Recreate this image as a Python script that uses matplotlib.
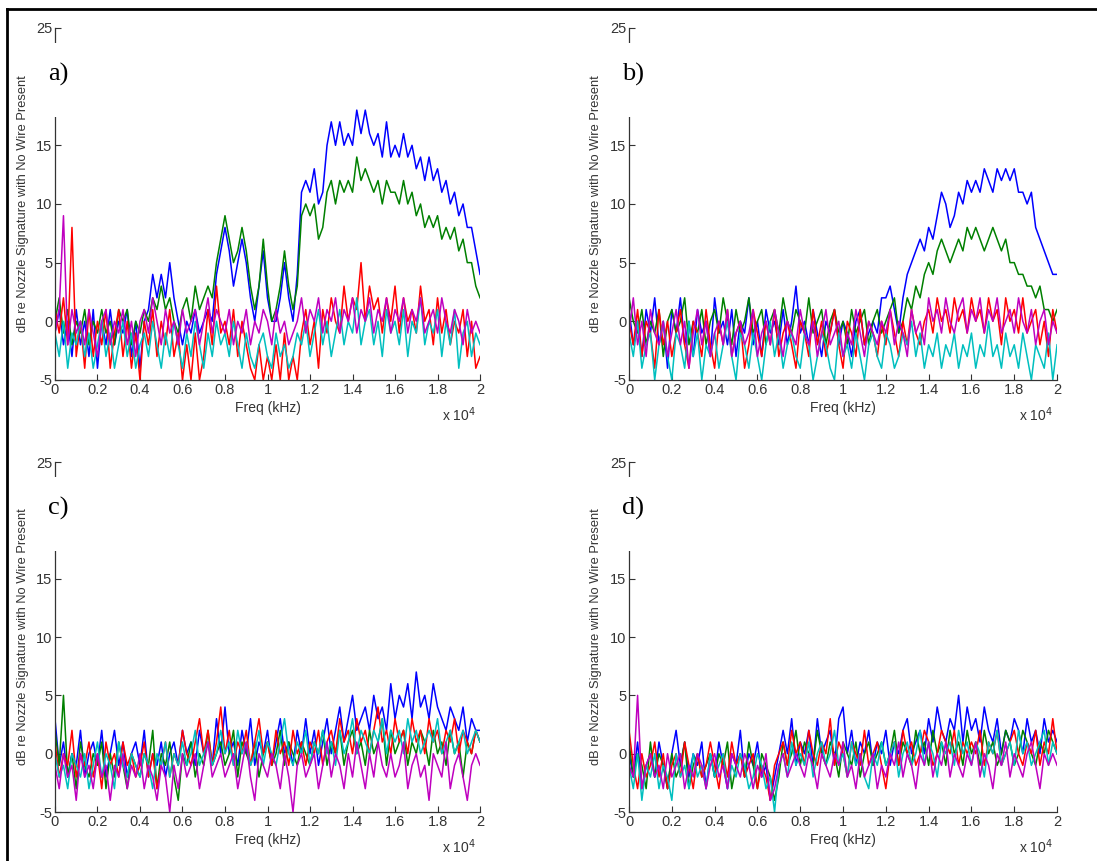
import matplotlib

matplotlib.use("Agg")
import matplotlib.pyplot as plt
import numpy as np
from matplotlib.lines import Line2D
from matplotlib.patches import Rectangle

plt.rcParams["font.family"] = ["Liberation Sans", "DejaVu Sans"]
plt.rcParams["axes.unicode_minus"] = False

# frequency grid (Hz), one value every 200 Hz
FREQ = np.linspace(0, 20000, 101)

# panel a)
A_BLUE = [-1, 1, -2, 0, -3, 1, -2, 0, -3, 1, -4, 0, -2, 1, -2, 0, -1, 1, -3, 0,
          -4, 0, 1, 4, 2, 4, 2, 5, 2, 0, -2, 0, -1, 1, -1, 0, 1, 0, 4, 6,
          8, 6, 3, 5, 7, 5, 2, 0, 3, 6, 2, 0, 0, 2, 5, 2, 0, 4, 11, 12,
          11, 13, 10, 11, 15, 17, 15, 17, 15, 16, 15, 18, 16, 18, 16, 15, 16, 14, 17, 14,
          15, 14, 16, 14, 15, 13, 14, 12, 14, 12, 13, 11, 12, 10, 11, 9, 10, 8, 8, 6, 4]
A_GREEN = [0, 2, -1, 1, -2, 0, -1, 1, -2, 0, -1, 1, -1, 0, -2, 1, 0, 1, -2, 0,
           -1, 1, 0, 2, 1, 3, 1, 2, 0, -1, 1, 2, 0, 3, 1, 2, 3, 2, 5, 7,
           9, 7, 5, 6, 8, 6, 3, 1, 3, 7, 3, 0, 1, 3, 6, 3, 1, 3, 9, 10,
           9, 10, 7, 8, 11, 12, 10, 12, 11, 12, 11, 14, 12, 13, 12, 11, 12, 10, 12, 11,
           11, 10, 12, 10, 11, 9, 10, 8, 9, 8, 9, 7, 8, 7, 8, 6, 7, 5, 5, 3, 2]
A_RED = [1, -1, 2, -2, 8, -3, 0, -4, 1, -3, 0, -2, 1, -4, -1, 1, -3, 0, -4, -1,
         -5, 0, -2, 1, -3, 0, -2, 1, -3, -1, -5, -2, -5, -1, -5, -3, 1, -2, 3, -1,
         0, -2, 1, -3, 0, -2, -4, -5, -2, -5, -3, -5, -2, -5, -1, -5, -3, -5, -1, 1,
         -2, 0, -4, 1, -1, 2, 0, -1, 3, 0, 2, 1, 5, 0, 3, 1, 2, -1, 2, 0,
         3, -1, 2, 0, 1, -1, 3, 0, 1, -2, 2, -1, 1, -2, 0, -1, 1, -3, 0, -4, -3]
A_CYAN = [-1, -3, 0, -4, -1, -2, 0, -3, -1, -4, -2, 0, -3, -1, -4, -2, 0, -3, -1, -4,
          -2, -1, -3, 0, -2, -4, -1, -3, 0, -2, -4, -1, -3, 0, -2, -4, -1, -3, 0, -2,
          -1, -3, 0, -2, -4, -1, -3, -4, -2, -1, -3, -4, -1, -3, -2, -4, -3, -1, -2, 0,
          -3, -1, 1, -2, 0, -3, -1, 1, -2, 0, -1, 2, -2, 0, 1, -2, 0, -3, 1, -1,
          0, -2, 1, -3, 0, -1, 2, -2, 0, -1, 1, -3, 0, -2, 1, -4, -1, 0, -3, -1, -2]
A_MAGENTA = [-1, 1, 9, -2, 1, -1, 0, -2, 1, -1, -3, 0, 1, -2, 0, -1, 1, -2, 0, -3,
             0, 1, -1, 2, 0, -2, 1, -1, 0, -2, 1, -1, 0, 1, -2, 0, 2, -1, 1, 0,
             -1, 1, -2, 0, -1, 1, -2, 0, -1, 1, 0, -2, 1, -1, 0, -2, -1, 0, 2, -1,
             1, 0, 2, -1, 1, 0, 2, -1, 1, 0, 2, -1, 1, 0, 2, -1, 1, 0, 2, -1,
             1, 0, 2, -1, 1, 0, 2, -1, 0, 1, -1, 2, 0, -1, 1, 0, -2, 1, -1, 0, -1]

# panel b)
B_BLUE = [1, -2, 0, -3, 1, -1, 2, -2, 0, -4, 1, -1, 2, -2, 0, -3, 1, -1, 0, -3,
          2, -1, 0, -2, 1, -3, 0, -1, 2, -2, 0, -3, 1, -1, 0, -2, 1, -2, 0, 3,
          -1, 0, -2, 1, -1, -3, 0, -1, 1, -2, 0, -1, -3, 0, 1, -2, -1, 0, -1, 2,
          2, 3, 1, -1, 2, 4, 5, 6, 7, 6, 8, 7, 9, 11, 10, 8, 9, 11, 10, 12,
          11, 12, 11, 13, 12, 11, 13, 12, 13, 12, 13, 11, 11, 10, 11, 8, 7, 6, 5, 4, 4]
B_GREEN = [2, 0, -1, 1, -2, 0, -1, 1, -3, 0, 1, -1, 0, 2, -2, 0, -1, 1, -2, 0,
           1, -1, 2, 0, -2, 1, -1, 0, 2, -1, 0, 1, -2, 0, 1, -1, 2, 0, -1, 1,
           0, -1, 2, -1, 0, 1, -2, 0, 1, -1, 0, -2, 1, -1, 0, 1, -2, 0, 1, -1,
           0, 1, 2, -1, 0, 2, 1, 3, 2, 4, 5, 4, 6, 7, 6, 5, 6, 7, 6, 8,
           7, 8, 7, 6, 7, 8, 7, 6, 7, 5, 5, 4, 4, 3, 3, 2, 3, 1, 1, 0, 1]
B_RED = [0, -2, 1, -3, 0, -1, -4, 1, -2, 0, -3, -1, 1, -2, -4, 0, -1, -3, 1, -2,
         -4, 0, -2, 1, -3, -1, 0, -4, -2, 1, -1, -3, 0, -2, 1, -3, -1, 0, -2, -4,
         0, -1, -3, 1, -2, 0, -3, -1, 1, -2, -4, 0, -1, -3, 1, -2, 0, -1, -3, 0,
         -2, 1, -1, -3, 0, -2, 1, -1, -2, 0, 1, -1, 2, 0, 1, -1, 2, 0, 1, -1,
         2, 0, 1, -1, 2, 0, 1, -2, 2, 0, 1, -1, 2, -1, 0, 1, -2, 0, -3, 1, -1]
B_CYAN = [-1, -3, 0, -4, -2, -1, -5, -2, 0, -3, -5, -1, -2, -4, 0, -3, -1, -5, -2, -3,
          -1, -4, -2, 0, -3, -5, -1, -2, -4, -1, -3, -5, -2, 0, -3, -1, -4, -2, -1, -3,
          -4, -1, -2, -5, -3, -1, -2, -4, -5, -1, -3, -2, -4, -1, -3, -5, -2, -1, -3, -4,
          -1, -2, -4, -3, -1, -2, 0, -3, -1, -4, -2, -3, -1, -4, -2, -3, -1, -4, -2, -3,
          -1, -4, -2, -3, 0, -3, -2, -4, -1, -3, -2, -4, -1, -3, -5, -2, -3, -4, -1, -5, -2]
B_MAGENTA = [-1, 2, -2, 0, -3, 1, -1, -2, 0, -3, -1, 1, -2, 0, -4, -1, 1, -2, 0, -3,
             -1, 0, -2, 1, -3, -1, 0, -2, -1, 1, -3, -1, 0, -2, 1, -1, -3, 0, -1, -2,
             1, -1, -2, 0, -3, -1, 1, -2, -1, 0, -3, -1, -2, 1, -1, -3, 0, -1, -2, 0,
             -1, 1, -2, 0, -1, -3, 1, -1, 0, -2, 2, 0, 1, -1, 2, 0, -1, 1, 2, -1,
             1, 0, 2, -1, 1, 0, 2, -1, 0, 1, -1, 2, 0, -1, 1, -2, 0, 1, -2, 0, -1]

# panel c)
C_BLUE = [3, -1, 1, -2, 0, -1, 2, -2, 0, 1, -1, 2, -2, 0, 2, -1, 1, -2, 0, 1,
          -1, 2, -2, 0, -1, 1, -2, 0, 1, -1, 2, 0, 1, -1, 2, 0, 1, -1, 3, 0,
          4, 0, 1, -1, 2, 0, 3, -1, 1, 0, 2, -1, 1, 3, 0, 1, -1, 2, 0, 3,
          0, 2, -1, 1, 3, 0, 2, 4, 1, 3, 5, 2, 3, 4, 2, 5, 3, 4, 2, 6,
          3, 5, 4, 6, 3, 7, 4, 5, 3, 6, 4, 3, 2, 4, 3, 2, 4, 1, 3, 2, 2]
C_GREEN = [2, -1, 5, -2, 0, -3, 1, -1, -2, 0, -1, 1, -3, 0, -2, 1, -1, -3, 0, -1,
           -2, 0, -1, 2, -3, 0, -1, 1, -2, -4, 0, -1, 1, -2, 0, -1, 2, -1, 0, 1,
           -1, 0, 2, -2, 1, 0, -1, 1, -2, 0, 1, -1, 0, 2, -1, 1, 0, -1, 1, 0,
           -1, 1, 0, 2, -1, 1, 0, 2, -1, 1, 2, 0, 1, -1, 2, 0, 1, 3, -1, 2,
           0, 1, 2, -1, 1, 0, 2, 1, -1, 2, 0, 1, -1, 2, 0, 1, -2, 1, 0, 2, 1]
C_RED = [1, -2, 0, -1, 2, -2, 0, -1, 1, -2, 0, -3, 1, -1, 0, -2, 1, -1, 0, -2,
         -1, 1, -2, 0, -3, -1, 1, -2, 0, -1, 2, 0, -1, 1, 3, 0, 2, -1, 1, 4,
         0, 2, -1, 1, 0, 2, -1, 1, 3, 0, 1, -1, 2, 0, 1, -1, 2, 0, 1, -1,
         1, 0, 2, -1, 1, 2, 0, 3, 1, 2, 0, 3, 1, 2, 0, 2, 4, 1, 2, 0,
         3, 1, 2, 0, 3, 1, 2, 0, 3, 1, 2, 0, 2, 1, 3, 0, 2, 1, 0, 2, 1]
C_CYAN = [0, -2, -1, -3, 0, -1, -2, 0, -3, -1, 1, -2, 0, -1, -3, 1, -1, -2, 0, -1,
          -2, 0, -1, -3, 0, -1, 1, -2, 0, -1, 1, -1, 0, 2, -1, 0, 1, -1, 0, 2,
          0, 1, -1, 2, 0, 1, -1, 0, 2, -1, 1, 0, -1, 1, 3, 0, -1, 1, 0, 2,
          -1, 1, 0, 2, 0, 1, -1, 2, 0, 1, 3, 0, 2, 1, 0, 2, 1, 3, 0, 2,
          1, 2, 0, 3, 1, 2, 0, 1, 2, 1, 3, 0, 1, 2, 0, 1, 2, 0, 1, 2, 1]
C_MAGENTA = [-1, -3, 0, -2, -1, -4, 0, -2, -1, -3, 0, -2, -1, -4, -1, -2, 0, -3, -1, -2,
             0, -3, -1, -2, -4, -1, -2, -5, -1, -3, 0, -2, -1, 0, -3, -1, 1, -2, -1, 0,
             -2, -1, 0, -3, -1, 1, -2, -4, 0, -1, -2, 0, -1, -3, 0, -2, -5, -1, 0, -2,
             -1, 0, -3, -1, 1, -2, 0, -1, -3, 0, -2, 1, -1, -3, 0, -2, 1, -1, -2, 0,
             -2, -1, 1, -3, -1, 0, -2, -1, -4, 0, -1, -2, 1, -3, -1, 0, -2, -4, -1, 0, -1]

# panel d)
D_BLUE = [0, -2, 1, -3, -1, 0, -2, 1, -1, -3, 0, 2, -1, 1, -2, 0, -1, 1, -3, 0,
          -2, 1, -1, -3, 0, -1, 2, -2, 0, -1, 1, -2, -1, -4, -2, 0, 2, 0, 3, -1,
          1, 0, 2, -1, 3, 0, 1, 2, -1, 3, 4, 0, 2, -1, 1, 0, 2, -1, 1, 0,
          2, -1, 1, 0, 2, 3, 0, 1, 2, 0, 3, 1, 4, 2, 1, 3, 2, 5, 1, 4,
          2, 3, 1, 4, 2, 1, 3, 0, 2, 1, 3, 2, 0, 3, 1, 2, 0, 3, 1, 2, 1]
D_GREEN = [1, -2, 0, -1, -3, 1, -2, 0, -1, -3, 0, -2, -1, 1, -3, -1, 0, -2, -1, 0,
           -2, 0, -1, 1, -3, -1, 0, -2, 1, -1, -3, 0, -1, -2, -4, -2, 1, -1, 0, 2,
           -1, 1, 0, -1, 2, 0, -1, 1, 0, -2, 1, 0, -1, 1, -2, 0, 1, -1, 0, 1,
           -1, 0, 2, -1, 1, 0, -1, 2, 0, 1, -1, 2, 0, 1, -1, 2, 0, 1, -1, 2,
           0, 1, -1, 2, 0, 1, -1, 0, 2, 1, -1, 0, 2, 1, 0, -1, 1, 0, 2, 1, 0]
D_RED = [2, -1, -3, 0, -2, -1, 1, -2, 0, -3, -1, 0, -2, 1, -1, -3, 0, -2, -1, 1,
         -1, -3, 0, -2, 1, -1, 0, -2, -1, 0, -3, -1, -2, -4, -1, 0, 1, -1, 2, 0,
         1, -1, 2, 0, -1, 1, 0, 3, -1, 1, 0, -2, 1, 0, -1, 2, -1, 0, 1, -1,
         -3, 0, 1, -1, 2, 0, 1, -1, 0, 2, 1, -1, 0, 2, 1, 0, 2, -1, 1, 0,
         1, 0, 2, -1, 1, 0, 2, -1, 0, 1, 2, 0, -1, 1, 0, 2, -1, 1, 0, 3, 0]
D_CYAN = [-1, -3, 0, -4, -1, -2, 0, -3, -1, -2, -4, 0, -2, -1, -3, 0, -2, -1, -3, 0,
          -2, -1, 0, -3, -1, -2, 0, -1, -3, -2, 0, -1, -3, -2, -5, -1, 0, -2, 1, -1,
          0, -1, 1, -2, 0, 1, -1, 0, 2, -1, 0, -2, 1, -1, 0, -2, -3, 0, -1, 1,
          -1, 0, 1, -2, 0, 1, -1, 0, 2, -1, 1, 0, -2, 1, 0, 1, -1, 2, 0, 1,
          -1, 1, 0, -2, 1, 0, 2, -1, 0, 1, -1, 2, 0, 1, -1, 0, 1, 2, -1, 1, 0]
D_MAGENTA = [-1, -2, 5, -3, -1, 0, -2, -1, -3, 0, -2, -1, 0, -3, -1, -2, 0, -1, -3, -1,
             0, -2, -1, -3, 0, -1, -2, 0, -1, -3, -1, -2, 0, -4, -3, -1, 0, -2, -1, 0,
             -1, -2, 0, -1, -3, 0, -1, -2, 0, -1, 1, -2, -1, -3, 0, -2, -1, 0, -3, -1,
             -2, 0, -1, 1, -2, 0, -1, -3, 0, -1, 1, -2, 0, -1, 1, -2, 0, -1, -2, 0,
             -1, 1, -2, 0, -1, -3, 0, -1, 1, -2, 0, -1, -2, 0, 1, -1, -3, 0, -1, 0, -1]

PANELS = [
    ("a)", [A_BLUE, A_GREEN, A_RED, A_CYAN, A_MAGENTA]),
    ("b)", [B_BLUE, B_GREEN, B_RED, B_CYAN, B_MAGENTA]),
    ("c)", [C_BLUE, C_GREEN, C_RED, C_CYAN, C_MAGENTA]),
    ("d)", [D_BLUE, D_GREEN, D_RED, D_CYAN, D_MAGENTA]),
]
# MATLAB default b, g, r, c, m
COLORS = ["#0000ff", "#008000", "#ff0000", "#00bfbf", "#bf00bf"]
XTICKS = [0, 2000, 4000, 6000, 8000, 10000, 12000, 14000, 16000, 18000, 20000]
XTICKLABELS = ["0", "0.2", "0.4", "0.6", "0.8", "1", "1.2", "1.4", "1.6", "1.8", "2"]
YTICKS = [-5, 0, 5, 10, 15, 20, 25]

# axes rectangles in figure fraction: left, bottom, width, height
RECTS = [
    (0.0501, 0.5587, 0.3875, 0.4088),
    (0.5734, 0.5587, 0.3902, 0.4088),
    (0.0501, 0.0569, 0.3875, 0.4065),
    (0.5734, 0.0569, 0.3902, 0.4065),
]

fig = plt.figure(figsize=(10.97, 8.61), dpi=100)

for (label, series), rect in zip(PANELS, RECTS):
    ax = fig.add_axes(rect)
    for y, c in zip(series, COLORS):
        ax.plot(FREQ, y, color=c, lw=1.1)
    ax.set_xlim(0, 20000)
    ax.set_ylim(-5, 25)
    ax.set_xticks(XTICKS)
    ax.set_xticklabels(XTICKLABELS)
    ax.set_yticks(YTICKS)
    for s in ("top", "right"):
        ax.spines[s].set_visible(False)
    for s in ("left", "bottom"):
        ax.spines[s].set_color("#333333")
        ax.spines[s].set_linewidth(0.9)
    ax.tick_params(direction="in", length=4, width=0.8, colors="#333333",
                   labelsize=10.5, pad=2)
    ax.set_xlabel("Freq (kHz)", fontsize=10, color="#333333", labelpad=3)
    ax.set_ylabel("dB re Nozzle Signature with No Wire Present", fontsize=9.3,
                  color="#333333")
    ax.yaxis.set_label_coords(-0.062, 0.5)
    ax.text(0.99, -0.1, r"x 10$^4$", transform=ax.transAxes, ha="right",
            va="center", fontsize=10, color="#333333")
    # white patch hiding the axis where the panel letter sits
    ax.add_patch(Rectangle((-0.045, 17.4), 0.2, 6.3,
                           transform=ax.get_yaxis_transform(), facecolor="white",
                           edgecolor="none", clip_on=False, zorder=5))
    ax.text(-0.016, 21, label, transform=ax.get_yaxis_transform(), ha="left",
            va="center", fontsize=19, family=["Liberation Serif", "DejaVu Serif"],
            zorder=6)

# outer frame (top and left edges)
fig.add_artist(Line2D([0.0064, 1.0], [0.9895, 0.9895], color="black", lw=2))
fig.add_artist(Line2D([0.0064, 0.0064], [0.0, 0.9895], color="black", lw=2))

fig.savefig("out.png", dpi=100)
